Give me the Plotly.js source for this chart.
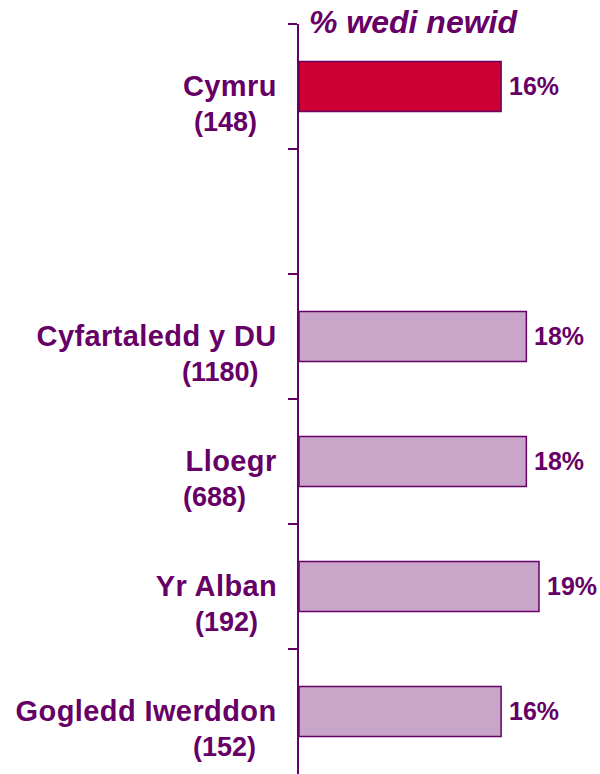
<!DOCTYPE html>
<html>
<head>
<meta charset="utf-8">
<script src="https://cdn.plot.ly/plotly-3.0.1.min.js"></script>
<style>
  html, body { margin: 0; padding: 0; background: #fff; }
  #chart { width: 600px; height: 774px; }
  .annotation[data-index="0"] .annotation-text,
  .annotation[data-index="1"] .annotation-text,
  .annotation[data-index="2"] .annotation-text,
  .annotation[data-index="3"] .annotation-text,
  .annotation[data-index="4"] .annotation-text { letter-spacing: 0.4px; }
</style>
</head>
<body>
<div id="chart"></div>
<script>
// Data
const categories = ['Cymru', 'Cyfartaledd y DU', 'Lloegr', 'Yr Alban', 'Gogledd Iwerddon'];
const counts = [148, 1180, 688, 192, 152];
const values = [16, 18, 18, 19, 16];
const slotOrder = ['Cymru', ' ', 'Cyfartaledd y DU', 'Lloegr', 'Yr Alban', 'Gogledd Iwerddon'];
const titleText = '% wedi newid';

const PURPLE = '#660066';
const RED = '#CC0033';
const LILAC = '#C9A6C9';
const FONT = 'Liberation Sans, Arial, sans-serif';

// horizontal offsets (px from axis) of the count lines, as in the original layout
const countXShift = [-40, -38, -51, -39, -41];

const barColors = categories.map((c, i) => i === 0 ? RED : LILAC);

const trace = {
  type: 'bar',
  orientation: 'h',
  x: values,
  y: categories,
  width: 0.4,
  marker: { color: barColors, line: { color: PURPLE, width: 1.5 } },
  hoverinfo: 'skip'
};

const annotations = [];
// name lines (indexes 0-4)
categories.forEach((c) => {
  annotations.push({
    xref: 'paper', x: 0, xanchor: 'right', xshift: -20,
    yref: 'y', y: c, yanchor: 'middle', yshift: 1,
    text: '<b>' + c + '</b>', showarrow: false, align: 'right',
    font: { family: FONT, size: 29, color: PURPLE }
  });
});
// count lines
categories.forEach((c, i) => {
  annotations.push({
    xref: 'paper', x: 0, xanchor: 'right', xshift: countXShift[i],
    yref: 'y', y: c, yanchor: 'middle', yshift: -35,
    text: '<b>(' + counts[i] + ')</b>', showarrow: false, align: 'right',
    font: { family: FONT, size: 27, color: PURPLE }
  });
});
// value labels
categories.forEach((c, i) => {
  annotations.push({
    xref: 'x', x: values[i], xanchor: 'left', xshift: 6,
    yref: 'y', y: c, yanchor: 'middle', yshift: 1,
    text: '<b>' + values[i] + '%</b>', showarrow: false,
    font: { family: FONT, size: 25, color: PURPLE }
  });
});
// title
annotations.push({
  xref: 'paper', x: 0, xanchor: 'left', xshift: 8,
  yref: 'paper', y: 1, yanchor: 'middle', yshift: 2,
  text: '<b><i>' + titleText + '</i></b>', showarrow: false,
  font: { family: FONT, size: 32, color: PURPLE }
});

const layout = {
  width: 600, height: 774,
  margin: { l: 299, r: 0, t: 24, b: 0 },
  paper_bgcolor: '#ffffff', plot_bgcolor: '#ffffff',
  showlegend: false,
  xaxis: { range: [0, 23.83], visible: false, fixedrange: true },
  yaxis: {
    type: 'category',
    categoryorder: 'array', categoryarray: slotOrder,
    range: [5.5, -0.5],
    showticklabels: false,
    showgrid: false, zeroline: false,
    showline: true, linecolor: PURPLE, linewidth: 2,
    ticks: 'outside', tickson: 'boundaries', ticklen: 9, tickwidth: 2, tickcolor: PURPLE,
    fixedrange: true
  },
  annotations: annotations
};

Plotly.newPlot('chart', [trace], layout, { displayModeBar: false, staticPlot: true });
</script>
</body>
</html>
